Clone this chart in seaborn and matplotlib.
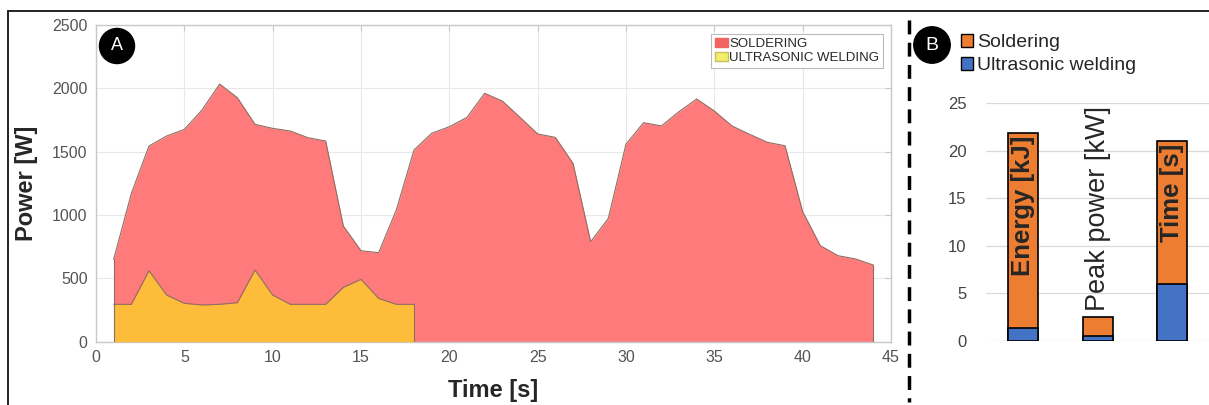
import numpy as np
import pandas as pd
import seaborn as sns
import matplotlib.pyplot as plt
from matplotlib.lines import Line2D
from matplotlib.patches import Patch

# panel A: power traces, one value per second
time_s = list(range(1, 45))
soldering_w = [650, 1170, 1545, 1624, 1676, 1829, 2034, 1926, 1716, 1684,
               1663, 1610, 1584, 913, 718, 703, 1040, 1513, 1645, 1697,
               1771, 1961, 1900, 1771, 1640, 1613, 1408, 789, 974, 1560,
               1729, 1703, 1816, 1916, 1821, 1703, 1637, 1574, 1547, 1026,
               758, 679, 653, 605]
welding_t = list(range(1, 19))
welding_w = [295, 295, 560, 368, 303, 290, 295, 308, 566, 368,
             295, 295, 295, 429, 492, 342, 295, 295]

# panel B: stacked totals
categories = ["Energy [kJ]", "Peak power [kW]", "Time [s]"]
total_vals = [21.9, 2.5, 21.0]
ultra_vals = [1.4, 0.5, 6.0]

sns.set_style("white")
plt.rcParams['font.family'] = ['Liberation Sans', 'DejaVu Sans']

W, H = 1209, 405
fig = plt.figure(figsize=(W / 100, H / 100), dpi=100)

# ---------- panel A ----------
ax = fig.add_axes([96 / W, 1 - 341.7 / H, 795 / W, 316.7 / H])
red = "#FF7B7B"
yel = "#FDBC3A"
edge = "#8f6e62"
ax.fill_between(time_s, soldering_w, 0, color=red, lw=0, zorder=2)
ax.fill_between(welding_t, welding_w, 0, color=yel, lw=0, zorder=3)
df_s = pd.DataFrame({"t": time_s, "p": soldering_w})
df_w = pd.DataFrame({"t": welding_t, "p": welding_w})
sns.lineplot(data=df_s, x="t", y="p", ax=ax, color=edge, lw=0.8, zorder=4)
sns.lineplot(data=df_w, x="t", y="p", ax=ax, color=edge, lw=0.8, zorder=4)
ax.plot([time_s[0], time_s[0]], [0, soldering_w[0]], color=edge, lw=0.8, zorder=4)
ax.plot([time_s[-1], time_s[-1]], [0, soldering_w[-1]], color=edge, lw=0.8, zorder=4)
ax.plot([welding_t[-1], welding_t[-1]], [0, welding_w[-1]], color=edge, lw=0.8, zorder=4)

ax.set_xlim(0, 45)
ax.set_ylim(0, 2500)
ax.set_xticks(range(0, 46, 5))
ax.set_yticks(range(0, 2501, 500))
ax.grid(True, color="#e8e8e8", lw=0.8, zorder=0)
ax.set_axisbelow(True)
for sp in ax.spines.values():
    sp.set_color("#c8c8c8")
    sp.set_linewidth(1.0)
ax.tick_params(direction="in", length=4, color="#c8c8c8", top=True, right=True,
               labelsize=11.5, labelcolor="#555555", pad=6)
ax.set_xlabel("Time [s]", fontsize=17, fontweight="bold", labelpad=10)
ax.set_ylabel("Power [W]", fontsize=17, fontweight="bold", labelpad=10)

leg_a = ax.legend(handles=[Patch(facecolor="#F26464", edgecolor="#F26464", label="SOLDERING"),
                           Patch(facecolor="#F3EE6A", edgecolor="#c8c060", label="ULTRASONIC WELDING")],
                  loc="upper right", bbox_to_anchor=(0.9985, 0.9935), fontsize=9.5,
                  handlelength=1.0, handleheight=0.7, handletextpad=0.1,
                  borderpad=0.3, labelspacing=0.15, fancybox=False, framealpha=1)
leg_a.get_frame().set_edgecolor("#bbbbbb")
leg_a.get_frame().set_linewidth(0.8)

fig.text(117 / W, 1 - 46 / H, "A", color="white", fontsize=13, ha="center", va="center",
         bbox=dict(boxstyle="circle,pad=0.5", fc="black", ec="black"))

# ---------- panel B ----------
axb = fig.add_axes([986 / W, 1 - 341 / H, 223.5 / W, 237.7 / H])
orange = "#ED7D31"
blue = "#4472C4"
df_b = pd.DataFrame({"cat": categories, "total": total_vals, "ultra": ultra_vals})
sns.barplot(data=df_b, x="cat", y="total", color=orange, width=0.4, saturation=1,
            edgecolor="black", linewidth=1.2, ax=axb)
sns.barplot(data=df_b, x="cat", y="ultra", color=blue, width=0.4, saturation=1,
            edgecolor="black", linewidth=1.2, ax=axb)
axb.set_xlim(-0.5, 2.5)
axb.set_ylim(0, 25)
axb.set_yticks(range(0, 26, 5))
axb.set_xticks([])
axb.set_xlabel("")
axb.set_ylabel("")
axb.grid(axis="y", color="#d9d9d9", lw=0.9)
axb.set_axisbelow(True)
for sp in axb.spines.values():
    sp.set_visible(False)
axb.tick_params(axis="y", length=0, labelsize=12, labelcolor="#444444", pad=14)

for i, (cat, tot) in enumerate(zip(categories, total_vals)):
    if tot > 10:
        axb.text(i, tot - 0.25, cat, rotation=90, ha="center", va="top", fontsize=18.5,
                 fontweight="bold", zorder=5)
    else:
        axb.text(i, tot + 0.7, cat, rotation=90, ha="center", va="bottom", fontsize=19.5,
                 fontweight="medium", zorder=5)

fig.legend(handles=[Patch(facecolor=orange, edgecolor="black", label="Soldering"),
                    Patch(facecolor=blue, edgecolor="black", label="Ultrasonic welding")],
           loc="upper left", bbox_to_anchor=(951 / W, 1 - 24 / H), fontsize=14,
           frameon=False, handlelength=0.65, handleheight=0.65, handletextpad=0.2,
           borderpad=0, labelspacing=0.3)

fig.text(932 / W, 1 - 45 / H, "B", color="white", fontsize=14, ha="center", va="center",
         bbox=dict(boxstyle="circle,pad=0.5", fc="black", ec="black"))

# divider and outer frame
fig.add_artist(Line2D([909 / W, 909 / W], [1 - 20 / H, 1 - 402 / H], color="black",
                      lw=2.5, linestyle=(0, (4, 2.4))))
fig.add_artist(Line2D([8 / W, 1], [1 - 11 / H, 1 - 11 / H], color="#222222", lw=1.4))
fig.add_artist(Line2D([8 / W, 8 / W], [1 - 11 / H, 0], color="#222222", lw=1.4))

fig.savefig("out.png", dpi=100)
